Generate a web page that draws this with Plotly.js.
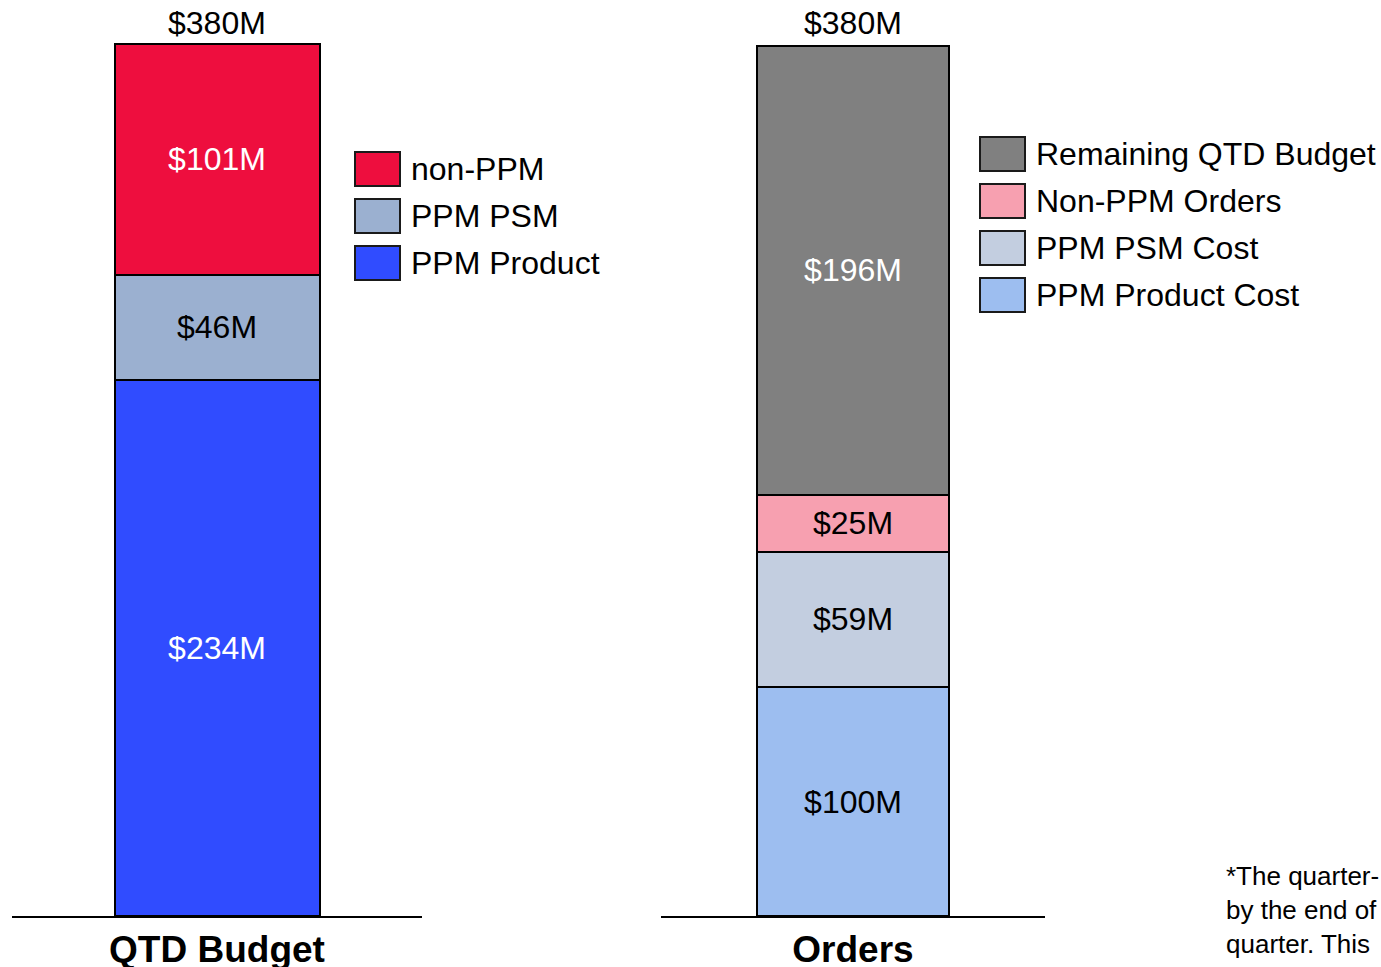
<!DOCTYPE html>
<html>
<head>
<meta charset="utf-8">
<script src="https://cdn.plot.ly/plotly-3.0.1.min.js"></script>
<style>
  html, body { margin: 0; padding: 0; background: #ffffff; }
  #chart { width: 1381px; height: 967px; }
</style>
</head>
<body>
<div id="chart"></div>
<script>
// ---- data ----
const categories = ['QTD Budget', 'Orders'];
const totals = [380, 380];

const budgetNames = ['PPM Product', 'PPM PSM', 'non-PPM'];
const budgetValues = [234, 46, 101];
const budgetColors = ['#304CFF', '#9BB0D0', '#EE0E3E'];
const budgetTextColors = ['#ffffff', '#000000', '#ffffff'];

const orderNames = ['PPM Product Cost', 'PPM PSM Cost', 'Non-PPM Orders', 'Remaining QTD Budget'];
const orderValues = [100, 59, 25, 196];
const orderColors = ['#9DBEF0', '#C3CEE0', '#F7A0B0', '#808080'];
const orderTextColors = ['#000000', '#000000', '#000000', '#ffffff'];

const footnote = ['*The quarter-', 'by the end of', 'quarter. This', 'approximately'];

// ---- layout helpers ----
const W = 1381, H = 967;
const FONT = 'Liberation Sans, Arial, sans-serif';
const px = v => v / W;
const py = v => 1 - v / H;

const traces = [];
function addBars(names, values, colors, textColors, cat, xa, ya) {
  names.forEach((n, i) => {
    traces.push({
      type: 'bar',
      x: [cat],
      y: [values[i]],
      name: n,
      xaxis: xa,
      yaxis: ya,
      width: 0.5,
      marker: { color: colors[i], line: { color: '#000000', width: 2 } },
      texttemplate: '$%{y}M',
      textposition: 'inside',
      insidetextanchor: 'middle',
      constraintext: 'none',
      textfont: { family: FONT, size: 32, color: textColors[i] },
      showlegend: false,
      hoverinfo: 'skip'
    });
  });
}
addBars(budgetNames, budgetValues, budgetColors, budgetTextColors, categories[0], 'x', 'y');
addBars(orderNames, orderValues, orderColors, orderTextColors, categories[1], 'x2', 'y2');

const shapes = [];
const annotations = [];

// totals on top of bars
categories.forEach((c, i) => {
  annotations.push({
    x: c, y: totals[i], xref: i === 0 ? 'x' : 'x2', yref: i === 0 ? 'y' : 'y2',
    text: '$' + totals[i] + 'M', showarrow: false, yanchor: 'bottom', yshift: 3,
    font: { family: FONT, size: 32, color: '#000000' }
  });
});

// custom legends (large swatches)
function addLegend(names, colors, x0, yc0, step) {
  const order = names.map((n, i) => i).reverse();
  order.forEach((idx, k) => {
    const yc = yc0 + k * step;
    shapes.push({
      type: 'rect', xref: 'paper', yref: 'paper',
      x0: px(x0), x1: px(x0 + 45), y0: py(yc - 17), y1: py(yc + 17),
      fillcolor: colors[idx], line: { color: '#1a1a1a', width: 2 }
    });
    annotations.push({
      xref: 'paper', yref: 'paper', x: px(x0 + 54), y: py(yc),
      xanchor: 'left', yanchor: 'middle', showarrow: false,
      text: names[idx], font: { family: FONT, size: 32, color: '#000000' }
    });
  });
}
addLegend(budgetNames, budgetColors, 355, 169, 47);
addLegend(orderNames, orderColors, 980, 154, 47);

// footnote
annotations.push({
  xref: 'paper', yref: 'paper', x: px(1224), y: py(859),
  xanchor: 'left', yanchor: 'top', align: 'left', showarrow: false,
  text: footnote.join('<br>'), font: { family: FONT, size: 26, color: '#000000' }
});

const yTop = 400;
const xCommon = {
  type: 'category', range: [-0.5, 0.5], showgrid: false, zeroline: false,
  showline: true, linecolor: '#000000', linewidth: 1.5, ticks: '',
  tickfont: { family: FONT, size: 37, color: '#000000', weight: 'bold' },
  ticklabelstandoff: 0, fixedrange: true
};
const yCommon = {
  range: [0, yTop], showgrid: false, zeroline: false, showline: false,
  showticklabels: false, ticks: '', domain: [(H - 916) / H, 1], fixedrange: true
};

const layout = {
  width: W, height: H,
  margin: { l: 0, r: 0, t: 0, b: 0 },
  paper_bgcolor: '#ffffff', plot_bgcolor: 'rgba(0,0,0,0)',
  barmode: 'stack',
  showlegend: false,
  hovermode: false,
  font: { family: FONT, color: '#000000' },
  xaxis: Object.assign({}, xCommon, { domain: [px(12), px(422)], anchor: 'y' }),
  yaxis: Object.assign({}, yCommon, { anchor: 'x' }),
  xaxis2: Object.assign({}, xCommon, { domain: [px(661), px(1045)], anchor: 'y2' }),
  yaxis2: Object.assign({}, yCommon, { anchor: 'x2' }),
  shapes: shapes,
  annotations: annotations
};

Plotly.newPlot('chart', traces, layout, { displayModeBar: false, staticPlot: true });
</script>
</body>
</html>
